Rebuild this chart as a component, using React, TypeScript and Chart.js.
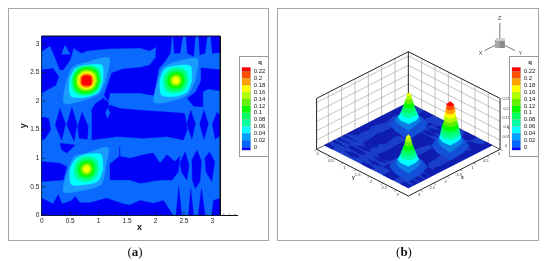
import React, { useEffect, useRef } from "react";
import { Chart, registerables } from "chart.js";
Chart.register(...registerables);

const FONT = "'Liberation Sans', Arial, sans-serif";
const xTicks = [0, 0.5, 1, 1.5, 2, 2.5, 3];
const yTicks = [0, 0.5, 1, 1.5, 2, 2.5, 3];
const zTicks = [0, 0.05, 0.1, 0.15, 0.2, 0.25];
const xMinor = [0.1,0.2,0.3,0.4,0.6,0.7,0.8,0.9,1.1,1.2,1.3,1.4,1.6,1.7,1.8,1.9,2.1,2.2,2.3,2.4,2.6,2.7,2.8,2.9,3.1,3.2,3.3,3.4];
const yMinor = [0.1,0.2,0.3,0.4,0.6,0.7,0.8,0.9,1.1,1.2,1.3,1.4,1.6,1.7,1.8,1.9,2.1,2.2,2.3,2.4,2.6,2.7,2.8,2.9,3.1];
const qTicks = [0, 0.02, 0.04, 0.06, 0.08, 0.1, 0.12, 0.14, 0.16, 0.18, 0.2, 0.22];
const qEdges = [-0.0094, 0, 0.02, 0.04, 0.06, 0.08, 0.1, 0.12, 0.14, 0.16, 0.18, 0.2, 0.22, 0.232];
const qColors = ["#0000ff", "#0068ff", "#00a0ff", "#00ffff", "#00ffa0", "#00ff60", "#00ff00", "#60f000", "#b0ff00", "#ffff00", "#ffa000", "#ff5000", "#ff0000"];
const levelColors = ["#1a9cff", "#00ffff", "#00ffa0", "#00ff60", "#00ff00", "#60ee00", "#b0ff00", "#ffff00", "#ffa000", "#ff5000", "#ff0000"];
const BASE_BLUE = "#0a6aff";
const DARK_BLUE = "#0000f8";

const domain = 3.14;
const axisMax = 3.44;
const zMax = 0.273;

// dark (below 0.02) islands, [x, y] in data units
const darkTop = [[0,3.14],[3.14,3.14],[3.14,2.85],[3.0,2.84],[2.97,3.14],[2.91,3.14],[2.87,2.84],[2.78,2.81],[2.76,3.14],[2.7,3.14],[2.67,2.78],[2.56,2.84],[2.54,3.14],[2.48,3.14],[2.43,2.84],[2.33,2.84],[2.31,3.14],[2.29,3.14],[2.26,2.84],[2.17,2.7],[2.0,2.5],[2.01,2.95],[1.9,2.88],[1.73,2.93],[1.2,2.92],[0.8,2.88],[0.7,2.84],[0.56,2.93],[0.5,2.72],[0.38,2.55],[0.32,2.55],[0.26,2.7],[0.15,2.97],[0,2.87]];
const darkLeftUpper = [[0,2.55],[0.2,2.57],[0.3,2.43],[0.25,2.28],[0,2.14]];
const darkMidUpper = [[1.23,2.49],[1.43,2.56],[1.73,2.59],[1.9,2.63],[1.99,2.75],[2.06,2.6],[1.98,2.1],[1.84,2.12],[1.73,2.14],[1.2,2.14],[1.17,2.0],[1.1,2.1]];
const darkRightUpper = [[2.8,2.58],[3.14,2.55],[3.14,2.18],[2.93,2.21],[2.83,2.17],[2.83,1.9],[2.67,1.91],[2.56,2.05],[2.7,2.15],[2.8,2.35]];
const darkMidBand = [[0.87,1.83],[0.94,1.95],[1.08,2.05],[1.17,1.98],[1.17,1.87],[1.2,1.93],[1.38,1.87],[1.73,1.84],[2.45,1.79],[2.51,1.78],[2.56,1.5],[2.49,1.32],[2.2,1.38],[1.79,1.35],[1.32,1.38],[0.87,1.32]];
const darkEdgeL = [[0,1.72],[0.12,1.7],[0.16,1.5],[0.05,1.33],[0,1.33]];
const darkF1 = [[0.32,1.87],[0.42,1.6],[0.35,1.32],[0.24,1.58]];
const darkF2 = [[0.53,1.89],[0.62,1.6],[0.57,1.3],[0.44,1.58]];
const darkF3 = [[0.71,1.8],[0.82,1.55],[0.8,1.33],[0.66,1.35],[0.63,1.55]];
const darkF4 = [[2.62,1.84],[2.7,1.6],[2.64,1.33],[2.55,1.6]];
const darkF5 = [[2.85,1.84],[2.93,1.6],[2.85,1.33],[2.78,1.6]];
const darkEdgeR = [[3.08,1.8],[3.14,1.75],[3.14,1.4],[3.05,1.33],[3.0,1.6]];
const darkSmall = [[0.32,1.26],[0.59,1.23],[0.44,1.09],[0.35,1.15]];
const darkLowerLeft = [[0,0.94],[0.32,0.91],[0.44,0.85],[0.38,0.62],[0,0.59]];
const darkLowerMid = [[1.2,0.9],[1.36,1.03],[1.37,1.2],[1.38,1.03],[1.55,1.0],[1.79,1.06],[1.96,1.09],[2.08,0.91],[2.2,1.06],[2.34,0.94],[2.43,1.03],[2.4,0.76],[2.29,0.62],[2.11,0.62],[1.96,0.6],[1.73,0.56],[1.55,0.62],[1.2,0.62]];
const darkF6 = [[2.43,0.91],[2.52,1.11],[2.59,0.88],[2.55,0.62],[2.46,0.76]];
const darkF7 = [[2.64,0.97],[2.73,1.14],[2.81,0.94],[2.78,0.59],[2.7,0.47],[2.65,0.62]];
const darkF8 = [[2.87,1.0],[2.95,1.11],[3.04,0.94],[2.99,0.59],[2.89,0.76]];
const darkBottom = [[0,0.3],[0.2,0.2],[0.29,0.36],[0.36,0.2],[0.53,0.26],[0.59,0.33],[0.67,0.22],[0.85,0.22],[1.14,0.3],[1.44,0.2],[1.55,0.18],[1.73,0.26],[1.96,0.21],[2.14,0.26],[2.29,0.03],[2.29,0],[0,0]];
const darkF9 = [[2.36,0],[2.41,0.5],[2.46,0]];
const darkF10 = [[2.58,0],[2.62,0.47],[2.67,0]];
const darkF11 = [[2.75,0],[2.81,0.47],[2.87,0]];
const darkF12 = [[2.99,0],[3.02,0.26],[3.14,0.3],[3.14,0]];
const darkIslands = [darkTop, darkLeftUpper, darkMidUpper, darkRightUpper, darkMidBand, darkEdgeL, darkF1, darkF2, darkF3, darkF4, darkF5, darkEdgeR, darkSmall, darkLowerLeft, darkLowerMid, darkF6, darkF7, darkF8, darkBottom, darkF9, darkF10, darkF11, darkF12];
const midTriangle = [[0.35,2.82],[0.41,2.98],[0.5,2.82]];
const midDiamond = [[1.16,1.88],[1.2,1.79],[1.16,1.7],[1.12,1.79]];
const midSliver = [[0.83,1.82],[0.87,1.82],[0.87,1.32],[0.83,1.32]];
const midIslands = [midTriangle, midDiamond, midSliver];

// contour radii round each peak: E, NE, N, NW, W, SW, S, SE
const peakACentre = [0.79, 2.36];
const peakARadii = [
  [0.34,0.56,0.32,0.34,0.35,0.56,0.33,0.32],
  [0.29,0.38,0.27,0.29,0.30,0.39,0.29,0.29],
  [0.265,0.3,0.26,0.265,0.265,0.3,0.26,0.26],
  [0.245,0.265,0.245,0.245,0.245,0.265,0.24,0.24],
  [0.22,0.235,0.22,0.22,0.22,0.235,0.215,0.215],
  [0.195,0.205,0.195,0.195,0.195,0.205,0.19,0.19],
  [0.17,0.18,0.17,0.17,0.17,0.18,0.165,0.165],
  [0.145,0.15,0.145,0.145,0.145,0.15,0.145,0.145],
  [0.125,0.13,0.125,0.125,0.125,0.13,0.125,0.125],
  [0.1,0.11,0.1,0.11,0.1,0.11,0.1,0.11],
  [0.08,0.095,0.08,0.095,0.08,0.095,0.08,0.095],
];
const peakABase = [0.5,0.78,0.5,0.5,0.5,0.78,0.5,0.5];
const peakAApex = 0.235;

const peakBCentre = [2.36, 2.36];
const peakBRadii = [
  [0.34,0.54,0.33,0.32,0.32,0.54,0.34,0.32],
  [0.28,0.36,0.26,0.28,0.28,0.36,0.28,0.28],
  [0.225,0.25,0.225,0.225,0.225,0.25,0.22,0.22],
  [0.185,0.2,0.185,0.185,0.185,0.2,0.18,0.18],
  [0.145,0.155,0.145,0.145,0.145,0.155,0.14,0.14],
  [0.105,0.11,0.105,0.105,0.105,0.11,0.1,0.1],
  [0.08,0.08,0.08,0.08,0.08,0.08,0.075,0.075],
  [0.05,0.05,0.05,0.05,0.05,0.05,0.05,0.05],
];
const peakBBase = [0.5,0.76,0.5,0.5,0.5,0.76,0.5,0.5];
const peakBApex = 0.172;

const peakCCentre = [0.79, 0.81];
const peakCRadii = [
  [0.33,0.53,0.28,0.31,0.32,0.57,0.36,0.37],
  [0.29,0.36,0.26,0.26,0.29,0.38,0.27,0.29],
  [0.22,0.245,0.22,0.22,0.22,0.245,0.22,0.22],
  [0.175,0.19,0.175,0.175,0.175,0.19,0.175,0.175],
  [0.14,0.15,0.14,0.14,0.14,0.15,0.14,0.14],
  [0.105,0.11,0.105,0.105,0.105,0.11,0.105,0.105],
  [0.075,0.08,0.075,0.075,0.075,0.08,0.075,0.075],
  [0.05,0.05,0.05,0.05,0.05,0.05,0.05,0.05],
];
const peakCBase = [0.5,0.76,0.5,0.5,0.5,0.76,0.5,0.5];
const peakCApex = 0.166;

const ring = (c: number[], r: number[]) =>
  r.map((d, k) => [c[0] + d * Math.cos((k * Math.PI) / 4), c[1] + d * Math.sin((k * Math.PI) / 4)]);

const toPts = (p: number[][]) => [...p, p[0]].map(([x, y]) => ({ x, y }));
const poly = (p: number[][], color: string, order: number, tension = 0) => ({
  data: toPts(p), showLine: true, fill: "shape", backgroundColor: color, borderColor: color,
  borderWidth: 0.4, pointRadius: 0, tension, order: -order,
});
const seg = (p: number[][], color: string, width: number, order: number) => ({
  data: p.map(([x, y]) => ({ x, y })), showLine: true, fill: false, borderColor: color,
  borderWidth: width, pointRadius: 0, tension: 0, order: -order, clip: false,
});

function contourChart(canvas: HTMLCanvasElement) {
  const ds: any[] = [];
  const add = (d: any) => ds.push(d);
  add(poly([[0, 0], [domain, 0], [domain, domain], [0, domain]], BASE_BLUE, ds.length));
  darkIslands.forEach((p) => add(poly(p, DARK_BLUE, ds.length)));
  midIslands.forEach((p) => add(poly(p, BASE_BLUE, ds.length)));
  [[peakACentre, peakARadii], [peakBCentre, peakBRadii], [peakCCentre, peakCRadii]].forEach(([c, rr]: any) =>
    rr.forEach((r: number[], i: number) => add(poly(ring(c, r), levelColors[i], ds.length, i < 2 ? 0.25 : 0.4))));
  xMinor.forEach((t) => add(seg([[t, 0], [t, 0.03]], "#222", 0.5, ds.length)));
  yMinor.forEach((t) => add(seg([[0, t], [0.03, t]], "#222", 0.5, ds.length)));
  xTicks.forEach((t) => add(seg([[t, 0], [t, 0.06]], "#111", 0.7, ds.length)));
  yTicks.forEach((t) => add(seg([[0, t], [0.06, t]], "#111", 0.7, ds.length)));
  add(seg([[0, domain], [domain, domain], [domain, 0]], "#111", 1, ds.length));
  const common = { grid: { display: false, drawTicks: false, tickLength: 0 }, border: { color: "#111", width: 1 } };
  return new Chart(canvas, {
    type: "scatter",
    data: { datasets: ds },
    options: {
      responsive: false, animation: false, events: [],
      layout: { padding: { top: 36, right: 37.6 } },
      plugins: { legend: { display: false }, tooltip: { enabled: false } },
      scales: {
        x: {
          ...common, type: "linear", min: 0, max: axisMax,
          afterBuildTicks: (s: any) => { s.ticks = xTicks.map((value) => ({ value })); },
          afterFit: (s: any) => { s.height = 45.7; },
          ticks: { color: "#222", font: { family: FONT, size: 6.5 }, padding: 2, autoSkip: false, maxRotation: 0, callback: (v: any) => String(v) },
          title: { display: true, text: "x", color: "#111", font: { family: FONT, size: 9, weight: "bold" }, padding: { top: 0, bottom: 27.6 } },
        },
        y: {
          ...common, type: "linear", min: 0, max: domain,
          afterBuildTicks: (s: any) => { s.ticks = yTicks.map((value) => ({ value })); },
          afterFit: (s: any) => { s.width = 41.7; },
          ticks: { color: "#222", font: { family: FONT, size: 6.5 }, padding: 2.4, autoSkip: false, callback: (v: any) => String(v) },
          title: { display: true, text: "y", color: "#111", font: { family: FONT, size: 9, weight: "bold" }, padding: { top: 18.6, bottom: 0 } },
        },
      },
    } as any,
  });
}

function legendChart(canvas: HTMLCanvasElement) {
  return new Chart(canvas, {
    type: "bar",
    data: {
      labels: ["q"],
      datasets: qColors.map((c, i) => ({
        data: [[qEdges[i], qEdges[i + 1]]], backgroundColor: c, borderColor: "rgba(0,0,0,0.3)",
        borderWidth: 0.4, grouped: false, barPercentage: 1, categoryPercentage: 1,
      })),
    },
    options: {
      responsive: false, animation: false, events: [],
      layout: { padding: { left: 2.7, top: 11.3, bottom: 4.7, right: 0 } },
      plugins: { legend: { display: false }, tooltip: { enabled: false } },
      scales: {
        x: { display: false },
        y: {
          position: "right", min: qEdges[0], max: qEdges[qEdges.length - 1],
          grid: { display: false, drawTicks: false, tickLength: 0 }, border: { display: false },
          afterBuildTicks: (s: any) => { s.ticks = qTicks.map((value) => ({ value })); },
          afterFit: (s: any) => { s.width = 18.3; },
          ticks: { color: "#222", font: { family: FONT, size: 6 }, padding: 3, autoSkip: false, callback: (v: any) => String(+(+v).toFixed(2)) },
        },
      },
    } as any,
  });
}

const project = (x: number, y: number, z: number) => [133.33 + 26.67 * (y - x), 102.67 + 13.57 * (x + y) - 186.7 * z];

function hull(pts: number[][]) {
  const s = [...pts].sort((a, b) => a[0] - b[0] || a[1] - b[1]);
  const cross = (o: number[], a: number[], b: number[]) => (a[0] - o[0]) * (b[1] - o[1]) - (a[1] - o[1]) * (b[0] - o[0]);
  const half = (list: number[][]) => {
    const out: number[][] = [];
    for (const p of list) {
      while (out.length >= 2 && cross(out[out.length - 2], out[out.length - 1], p) <= 0) out.pop();
      out.push(p);
    }
    out.pop();
    return out;
  };
  return [...half(s), ...half([...s].reverse())];
}

function surfaceChart(canvas: HTMLCanvasElement) {
  const ds: any[] = [];
  const add = (d: any) => ds.push(d);
  const G = "#9a9a9a";
  const line3 = (a: number[], b: number[], col: string, w: number) =>
    add(seg([project(a[0], a[1], a[2]), project(b[0], b[1], b[2])], col, w, ds.length));
  // walls
  xTicks.slice(1).forEach((t) => line3([t, 0, 0], [t, 0, zMax], G, 0.6));
  yTicks.slice(1).forEach((t) => line3([0, t, 0], [0, t, zMax], G, 0.6));
  zTicks.slice(1).forEach((t) => {
    line3([axisMax, 0, t], [0, 0, t], G, 0.6);
    line3([0, 0, t], [0, axisMax, t], G, 0.6);
  });
  line3([axisMax, 0, zMax], [0, 0, zMax], "#222", 1);
  line3([0, 0, zMax], [0, axisMax, zMax], "#222", 1);
  line3([0, 0, 0], [0, 0, zMax], "#222", 1);
  line3([axisMax, 0, 0], [axisMax, 0, zMax], "#222", 1);
  line3([0, axisMax, 0], [0, axisMax, zMax], "#222", 1);
  line3([axisMax, 0, 0], [0, 0, 0], "#333", 0.8);
  line3([0, axisMax, 0], [0, 0, 0], "#333", 0.8);
  line3([axisMax, 0, 0], [axisMax, axisMax, 0], "#222", 1);
  line3([axisMax, axisMax, 0], [0, axisMax, 0], "#222", 1);
  yTicks.forEach((t) => line3([axisMax, t, 0], [axisMax + 0.1, t, 0], "#444", 0.5));
  xTicks.forEach((t) => line3([t, axisMax, 0], [t, axisMax + 0.1, 0], "#444", 0.5));
  // floor
  const proj0 = (p: number[][]) => p.map(([x, y]) => project(x, y, 0));
  add(poly(proj0([[0, 0], [domain, 0], [domain, domain], [0, domain]]), "#1a3ec8", ds.length));
  darkIslands.forEach((p) => add(poly(proj0(p), "#0e1cb0", ds.length)));
  // peaks, back to front
  const peaks: any[] = [
    [peakCCentre, peakCRadii, peakCBase, peakCApex],
    [peakACentre, peakARadii, peakABase, peakAApex],
    [peakBCentre, peakBRadii, peakBBase, peakBApex],
  ];
  peaks.forEach(([c, rr, base, apex]) => {
    const lift = (r: number[], z: number) => ring(c, r).map(([x, y]) => project(x, y, z));
    add(poly(hull([...lift(base, 0), ...lift(rr[0], 0.02)]), "#1250d8", ds.length));
    rr.forEach((r: number[], i: number) => {
      const lo = lift(r, 0.02 + 0.02 * i);
      const hi = i + 1 < rr.length ? lift(rr[i + 1], 0.04 + 0.02 * i) : [project(c[0], c[1], apex)];
      add(poly(hull([...lo, ...hi]), i === 0 ? "#0a80e4" : levelColors[i], ds.length));
    });
  });

  const labels = {
    id: "labels3d",
    afterDatasetsDraw(chart: any) {
      const { ctx, scales } = chart;
      const P = (u: number, v: number) => [scales.x.getPixelForValue(u), scales.y.getPixelForValue(v)];
      const text = (s: string, u: number, v: number, size: number, weight = "normal", col = "#333") => {
        const [a, b] = P(u, v);
        ctx.font = `${weight} ${size}px ${FONT}`;
        ctx.fillStyle = col;
        ctx.textAlign = "center";
        ctx.textBaseline = "middle";
        ctx.fillText(s, a, b);
      };
      ctx.save();
      yTicks.forEach((t) => { const [u, v] = project(axisMax, t, 0); text(String(t), u + 1, v + 5, 4); });
      xTicks.forEach((t) => { const [u, v] = project(t, axisMax, 0); text(String(t), u - 1, v + 5, 4); });
      zTicks.forEach((t) => { const [u, v] = project(0, axisMax, t); text(String(t), u + 6, v - 3.5, 3.8); });
      text("y", 78.5, 178, 5, "bold");
      text("x", 187.5, 178, 5, "bold");
      text("q", 234, 127.5, 4.5, "bold");
      // orientation triad
      const o = P(224.8, 43);
      const tip = (u: number, v: number) => P(u, v);
      ctx.strokeStyle = "#777";
      ctx.lineWidth = 1;
      ctx.beginPath(); ctx.moveTo(o[0], o[1]); ctx.lineTo(...(tip(224.8, 23) as [number, number])); ctx.stroke();
      ctx.strokeStyle = "#444";
      ctx.lineWidth = 0.7;
      ctx.beginPath(); ctx.moveTo(o[0], o[1]); ctx.lineTo(...(tip(209.5, 50.5) as [number, number])); ctx.stroke();
      ctx.beginPath(); ctx.moveTo(o[0], o[1]); ctx.lineTo(...(tip(240, 50.5) as [number, number])); ctx.stroke();
      ctx.fillStyle = "#a8a8a8"; ctx.fillRect(o[0] - 5, o[1] - 3, 10, 8);
      ctx.fillStyle = "#8c8c8c"; ctx.fillRect(o[0], o[1] - 2.5, 5, 7.5);
      ctx.fillStyle = "#cfcfcf"; ctx.fillRect(o[0] - 4, o[1] - 5, 9, 3);
      text("Z", 224.8, 18.5, 5.5, "normal", "#444");
      text("X", 205.5, 53, 5.5, "normal", "#444");
      text("Y", 245.5, 53, 5.5, "normal", "#444");
      ctx.restore();
    },
  };

  return new Chart(canvas, {
    type: "scatter",
    data: { datasets: ds },
    plugins: [labels],
    options: {
      responsive: false, animation: false, events: [],
      plugins: { legend: { display: false }, tooltip: { enabled: false } },
      scales: {
        x: { display: false, type: "linear", min: 0, max: 275 },
        y: { display: false, type: "linear", min: 0, max: 261, reverse: true },
      },
    } as any,
  });
}

const abs = (left: number, top: number, width: number, height: number): React.CSSProperties => ({
  position: "absolute", left, top, width, height, boxSizing: "border-box",
});

export default function App() {
  const a = useRef<HTMLCanvasElement>(null);
  const b = useRef<HTMLCanvasElement>(null);
  const la = useRef<HTMLCanvasElement>(null);
  const lb = useRef<HTMLCanvasElement>(null);
  useEffect(() => {
    const charts = [
      contourChart(a.current!),
      surfaceChart(b.current!),
      legendChart(la.current!),
      legendChart(lb.current!),
    ];
    return () => charts.forEach((c) => c.destroy());
  }, []);
  const frame = "1px solid #a6a6a6";
  const legendBorder = "1px solid #9a9a9a";
  const q: React.CSSProperties = { fontFamily: FONT, fontSize: 6, fontWeight: "bold", color: "#222", lineHeight: "8px", textAlign: "center" };
  const cap: React.CSSProperties = { fontFamily: "'Liberation Serif', serif", fontSize: 13, color: "#111", textAlign: "center", lineHeight: "16px" };
  return (
    <div style={{ ...abs(0, 0, 550, 261), background: "#fff", filter: "blur(0.45px)", overflow: "hidden" }}>
      <div style={{ ...abs(8, 8, 261, 233), border: frame }} />
      <div style={{ ...abs(277, 8, 262, 233), border: frame }} />
      <canvas ref={a} width={275} height={261} style={abs(0, 0, 275, 261)} />
      <canvas ref={b} width={275} height={261} style={abs(275, 0, 275, 261)} />
      <div style={{ ...abs(239, 56, 30, 101), border: legendBorder, background: "#fff" }} />
      <canvas ref={la} width={30} height={101} style={abs(239, 56, 30, 101)} />
      <div style={{ ...abs(509, 56, 30, 101), border: legendBorder, background: "#fff" }} />
      <canvas ref={lb} width={30} height={101} style={abs(509.3, 56, 30, 101)} />
      <div style={{ ...abs(254, 58, 12, 8), ...q }}>q</div>
      <div style={{ ...abs(524, 58, 12, 8), ...q }}>q</div>
      <div style={{ ...abs(115, 244, 40, 16), ...cap }}>(<b>a</b>)</div>
      <div style={{ ...abs(384, 244, 40, 16), ...cap }}>(<b>b</b>)</div>
    </div>
  );
}
